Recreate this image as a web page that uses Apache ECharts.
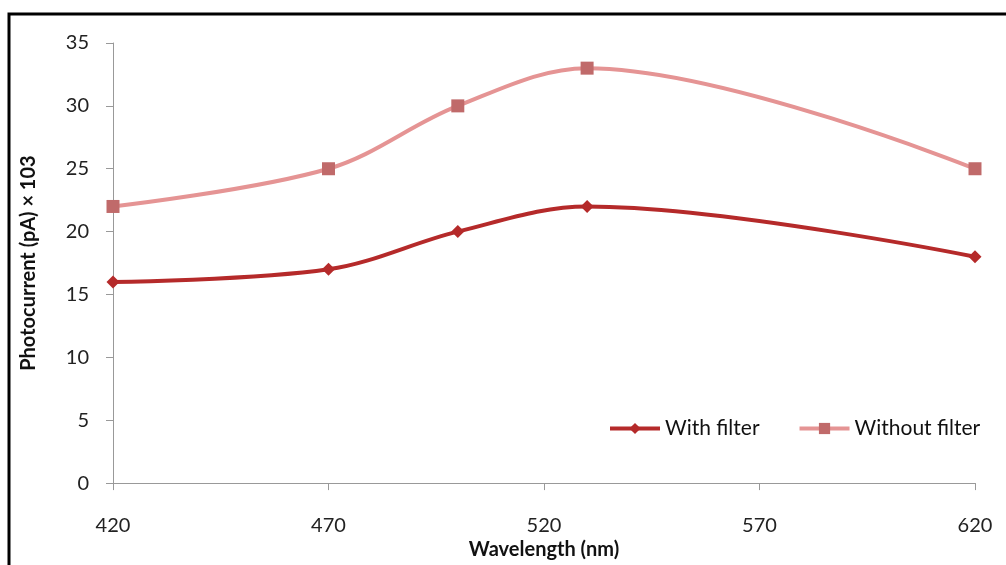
<!DOCTYPE html>
<html>
<head>
<meta charset="utf-8">
<script src="https://cdn.jsdelivr.net/npm/echarts@6/dist/echarts.min.js"></script>
<style>
  html, body { margin: 0; padding: 0; background: #fff; }
  #chart { width: 1006px; height: 565px; }
</style>
</head>
<body>
<div id="chart"></div>
<script>
// wavelengths (nm) and photocurrent
const wavelengths = [420, 470, 500, 530, 620];
const withFilter = [16, 17, 20, 22, 18];
const withoutFilter = [22, 25, 30, 33, 25];

const pair = (xs, ys) => xs.map((x, i) => [x, ys[i]]);

const font = 'Lato, "Open Sans", sans-serif';
const chart = echarts.init(document.getElementById('chart'));

const option = {
  backgroundColor: '#fff',
  animation: false,
  textStyle: { fontFamily: font },
  graphic: [{
    type: 'rect',
    shape: { x: 9, y: 14, width: 1100, height: 700 },
    style: { fill: 'none', stroke: '#000', lineWidth: 3 }
  }],
  grid: { left: 113, right: 31, top: 43, bottom: 77 },
  legend: {
    left: 603, top: 413,
    itemWidth: 50, itemHeight: 14, itemGap: 38,
    textStyle: { fontSize: 21, color: '#111', fontFamily: font },
    lineStyle: { width: 4 },
    data: ['With filter', 'Without filter']
  },
  xAxis: {
    type: 'value',
    min: 420, max: 620, interval: 50,
    name: 'Wavelength (nm)',
    nameLocation: 'middle',
    nameGap: 54,
    nameTextStyle: { fontSize: 20, fontWeight: 'bold', color: '#111', fontFamily: font },
    axisLine: { lineStyle: { color: '#999' } },
    axisTick: { length: 7, lineStyle: { color: '#999' } },
    axisLabel: { fontSize: 20, color: '#222', margin: 32 },
    splitLine: { show: false }
  },
  yAxis: {
    type: 'value',
    min: 0, max: 35, interval: 5,
    name: 'Photocurrent (pA) × 103',
    nameLocation: 'middle',
    nameGap: 74,
    nameTextStyle: { fontSize: 20, fontWeight: 'bold', color: '#111', fontFamily: font },
    axisLine: { show: true, lineStyle: { color: '#999' } },
    axisTick: { show: true, length: 7, lineStyle: { color: '#999' } },
    axisLabel: { fontSize: 20, color: '#222', margin: 24 },
    splitLine: { show: false }
  },
  series: [
    {
      name: 'With filter',
      type: 'line',
      data: pair(wavelengths, withFilter),
      smooth: 0.35,
      symbol: 'diamond',
      symbolSize: 13,
      lineStyle: { color: '#b52a2a', width: 4 },
      itemStyle: { color: '#b52a2a' }
    },
    {
      name: 'Without filter',
      type: 'line',
      data: pair(wavelengths, withoutFilter),
      smooth: 0.35,
      symbol: 'rect',
      symbolSize: 13,
      lineStyle: { color: '#e59494', width: 4 },
      itemStyle: { color: '#c06a6a' }
    }
  ]
};

chart.setOption(option);
</script>
</body>
</html>
